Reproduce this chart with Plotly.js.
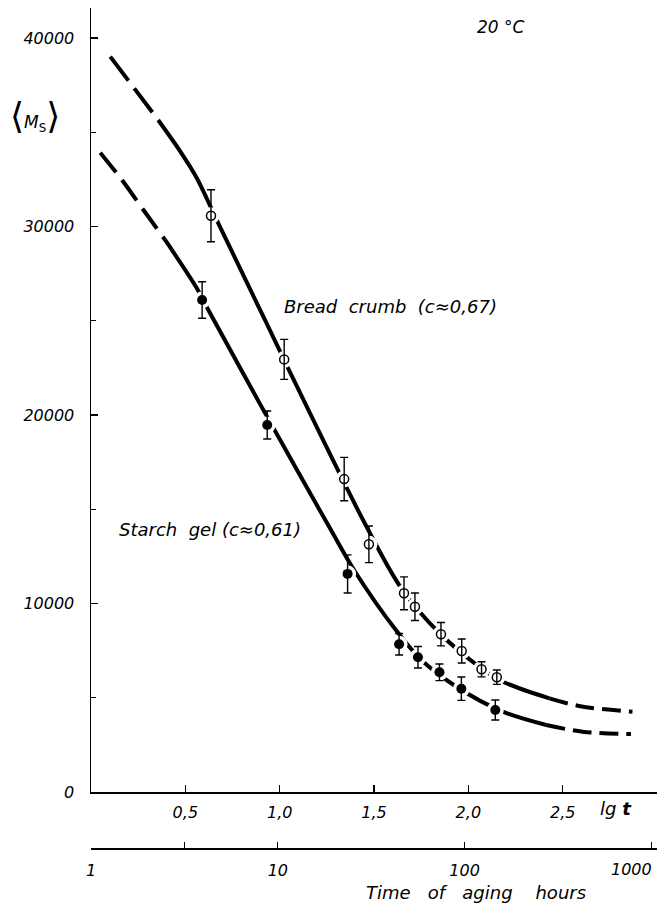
<!DOCTYPE html>
<html><head><meta charset="utf-8">
<script src="https://cdn.plot.ly/plotly-3.0.1.min.js"></script>
<style>html,body{margin:0;padding:0;background:#fff;} #chart{width:657px;height:906px;}</style>
</head><body><div id="chart"></div>
<script>
// ---- tick labels ----
const lgTickVals = [0.5, 1.0, 1.5, 2.0, 2.5];
const lgTickText = ['0,5', '1,0', '1,5', '2,0', '2,5'];
const hourTickVals = [1, 10, 100];
const hourTickText = ['1', '10', '100'];
const hourMinorVals = [3.162, 1000];
const hourEndLabel = '1000';
const msTickVals = [0, 10000, 20000, 30000, 40000];
const msTickText = ['0', '10000', '20000', '30000', '40000'];
const msMinorVals = [5000, 15000, 25000, 35000];

// ---- measured points (lg t, <Ms>, error) ----
const breadLg  = [0.636, 1.024, 1.342, 1.473, 1.659, 1.717, 1.855, 1.965, 2.070, 2.151];
const breadMs  = [30570, 22950, 16600, 13140, 10540, 9830, 8370, 7480, 6510, 6090];
const breadErr = [1380, 1060, 1150, 970, 870, 730, 620, 640, 400, 380];

const starchLg  = [0.589, 0.934, 1.360, 1.633, 1.733, 1.847, 1.963, 2.143];
const starchMs  = [26100, 19470, 11570, 7840, 7150, 6350, 5480, 4350];
const starchErr = [970, 740, 1010, 570, 570, 440, 620, 530];

// ---- fitted curves ----
const breadHeadLg = [0.102, 0.224, 0.356];
const breadHeadMs = [39010, 37400, 35650];
const breadBodyLg = [0.356, 0.472, 0.562, 0.622, 0.675, 0.922, 1.178, 1.451, 1.645, 1.848, 2.069, 2.183, 2.43];
const breadBodyMs = [35650, 34000, 32550, 31300, 30170, 25040, 19735, 14255, 10806, 8420, 6562, 5851, 4970];
const breadTailLg = [2.43, 2.593, 2.87];
const breadTailMs = [4970, 4550, 4260];

const starchHeadLg = [0.049, 0.164, 0.278, 0.393];
const starchHeadMs = [33916, 32467, 30875, 29284];
const starchBodyLg = [0.393, 0.561, 0.622, 0.934, 1.266, 1.399, 1.619, 1.751, 1.937, 2.183, 2.413];
const starchBodyMs = [29284, 26721, 25570, 19900, 14000, 11700, 8550, 7003, 5586, 4260, 3554];
const starchTailLg = [2.413, 2.606, 2.862];
const starchTailMs = [3554, 3200, 3077];

const FONT = 'DejaVu Sans, sans-serif';
const W = 4;
const NB = '\u00a0';

function curve(x, y, dash) {
  return {x: x, y: y, mode: 'lines', type: 'scatter', hoverinfo: 'skip',
    line: {color: 'black', width: W, dash: dash, shape: 'spline', smoothing: 0.9}};
}
function halo(x, y) {
  return {x: x, y: y, mode: 'markers', type: 'scatter', hoverinfo: 'skip',
    marker: {color: 'white', size: 17, line: {width: 0}}};
}

const traces = [
  curve(breadHeadLg, breadHeadMs, '30px,10px'),
  curve(breadBodyLg, breadBodyMs, 'solid'),
  curve(breadTailLg, breadTailMs, '19px,8px'),
  curve(starchHeadLg, starchHeadMs, '25px,10px'),
  curve(starchBodyLg, starchBodyMs, 'solid'),
  curve(starchTailLg, starchTailMs, '19px,8px'),
  halo(breadLg, breadMs),
  halo(starchLg, starchMs),
  {x: breadLg, y: breadMs, mode: 'markers', type: 'scatter', name: 'Bread crumb',
    marker: {symbol: 'circle-open', size: 9, color: 'black', line: {width: 1.5, color: 'black'}},
    error_y: {type: 'data', array: breadErr, visible: true, color: 'black', thickness: 1.4, width: 4}},
  {x: starchLg, y: starchMs, mode: 'markers', type: 'scatter', name: 'Starch gel',
    marker: {symbol: 'circle', size: 10, color: 'black'},
    error_y: {type: 'data', array: starchErr, visible: true, color: 'black', thickness: 1.4, width: 4}},
  // carrier for the hours axis (invisible)
  {x: [hourTickVals[0], hourMinorVals[hourMinorVals.length - 1]], y: [0, 0], xaxis: 'x2', yaxis: 'y2',
    mode: 'markers', type: 'scatter', hoverinfo: 'skip', marker: {opacity: 0, size: 1}}
];

const tickFont = {family: FONT, size: 16, color: 'black', style: 'italic'};

const layout = {
  width: 657, height: 906,
  margin: {l: 91, r: 0, t: 8, b: 58, pad: 0},
  paper_bgcolor: 'white', plot_bgcolor: 'rgba(0,0,0,0)',
  showlegend: false,
  font: {family: FONT, color: 'black'},
  xaxis: {
    range: [0, 3.0], anchor: 'y', showgrid: false, zeroline: false,
    showline: true, linecolor: 'black', linewidth: 1.5,
    ticks: 'inside', ticklen: 7, tickwidth: 1.3, tickcolor: 'black',
    tickmode: 'array', tickvals: lgTickVals, ticktext: lgTickText,
    tickfont: tickFont, ticklabelstandoff: 5
  },
  yaxis: {
    range: [0, 41591], domain: [56 / 840, 1], anchor: 'x',
    showgrid: false, zeroline: false,
    showline: true, linecolor: 'black', linewidth: 1.5,
    ticks: 'inside', ticklen: 7, tickwidth: 1.3, tickcolor: 'black',
    tickmode: 'array', tickvals: msTickVals, ticktext: msTickText,
    tickfont: tickFont, ticklabelstandoff: 12,
    minor: {tickmode: 'array', tickvals: msMinorVals, ticks: 'inside', ticklen: 5, tickwidth: 1.2, tickcolor: 'black'}
  },
  xaxis2: {
    type: 'log', range: [0, 3.03], domain: [0, 1], anchor: 'y2',
    showgrid: false, zeroline: false,
    showline: true, linecolor: 'black', linewidth: 1.5,
    ticks: 'inside', ticklen: 6, tickwidth: 1.3, tickcolor: 'black',
    tickmode: 'array', tickvals: hourTickVals, ticktext: hourTickText,
    tickfont: tickFont, ticklabelstandoff: 7,
    minor: {tickmode: 'array', tickvals: hourMinorVals, ticks: 'inside', ticklen: 6, tickwidth: 1.3, tickcolor: 'black'}
  },
  yaxis2: {
    domain: [0, 0.01], anchor: 'x2', visible: false, range: [0, 1], fixedrange: true
  },
  annotations: [
    {text: hourEndLabel, xref: 'x2', yref: 'paper', x: Math.log10(hourMinorVals[hourMinorVals.length - 1]), y: -0.0255,
      showarrow: false, xanchor: 'right', yanchor: 'middle', xshift: 3, font: tickFont},
    {text: '20 °C', xref: 'paper', yref: 'paper', x: 0.7244, y: 0.9774, showarrow: false,
      xanchor: 'center', yanchor: 'middle', font: {family: FONT, size: 17, style: 'italic', color: 'black'}},
    {text: 'Bread' + NB + ' crumb' + NB + ' (c≈0,67)', xref: 'paper', yref: 'paper', x: 0.5283, y: 0.6452, showarrow: false,
      xanchor: 'center', yanchor: 'middle', font: {family: FONT, size: 18, style: 'italic', color: 'black'}},
    {text: 'Starch' + NB + ' gel (c≈0,61)', xref: 'paper', yref: 'paper', x: 0.2102, y: 0.3786, showarrow: false,
      xanchor: 'center', yanchor: 'middle', font: {family: FONT, size: 18, style: 'italic', color: 'black'}},
    {text: '<span style="font-size:36px">⟨</span><i>M</i><sub>S</sub><span style="font-size:36px">⟩</span>',
      xref: 'paper', yref: 'paper', x: -0.0989, y: 0.8726, showarrow: false,
      xanchor: 'center', yanchor: 'middle', font: {family: FONT, size: 17, color: 'black'}},
    {text: '<i>lg</i> <b><i>t</i></b>', xref: 'paper', yref: 'paper', x: 0.9276, y: 0.0476, showarrow: false,
      xanchor: 'center', yanchor: 'middle', font: {family: FONT, size: 18, color: 'black'}},
    {text: 'Time' + NB + NB + ' of' + NB + NB + ' aging' + NB + NB + NB + ' hours', xref: 'paper', yref: 'paper', x: 0.680, y: -0.0524, showarrow: false,
      xanchor: 'center', yanchor: 'middle', font: {family: FONT, size: 18, style: 'italic', color: 'black'}}
  ]
};

Plotly.newPlot('chart', traces, layout, {staticPlot: true, displayModeBar: false});
</script>
</body></html>
